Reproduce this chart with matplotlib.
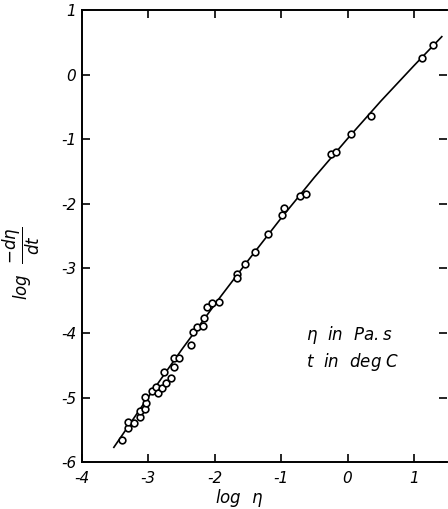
import matplotlib
matplotlib.use("Agg")
import matplotlib.pyplot as plt

# Measured points: log viscosity vs log of its rate of change
log_eta = [-3.39, -3.31, -3.30, -3.22, -3.13, -3.13, -3.05, -3.04, -3.05,
           -2.94, -2.88, -2.86, -2.80, -2.77, -2.73, -2.66, -2.62, -2.62,
           -2.54, -2.36, -2.33, -2.27, -2.17, -2.16, -2.11, -2.04, -1.94,
           -1.67, -1.67, -1.55, -1.40, -1.20, -0.98, -0.96, -0.72, -0.62,
           -0.25, -0.17, 0.05, 0.36, 1.12, 1.29]
log_rate = [-5.65, -5.47, -5.38, -5.39, -5.30, -5.21, -5.17, -5.08, -4.99,
            -4.90, -4.83, -4.93, -4.85, -4.61, -4.77, -4.69, -4.53, -4.39,
            -4.39, -4.19, -3.98, -3.91, -3.89, -3.77, -3.59, -3.54, -3.52,
            -3.09, -3.15, -2.93, -2.74, -2.46, -2.17, -2.07, -1.88, -1.85,
            -1.22, -1.20, -0.91, -0.64, 0.26, 0.46]

# Fitted curve through the data
fit_x = [-3.52, -3.0, -2.5, -1.915, -1.5, -1.0, -0.5, 0.0, 0.5, 1.0, 1.42]
fit_y = [-5.77, -4.99, -4.26, -3.44, -2.88, -2.22, -1.59, -0.99, -0.41, 0.14, 0.59]

x_ticks = [-4, -3, -2, -1, 0, 1]
y_ticks = [-6, -5, -4, -3, -2, -1, 0, 1]

plt.rcParams['font.family'] = ['DejaVu Sans']
plt.rcParams['mathtext.fontset'] = 'custom'
plt.rcParams['mathtext.it'] = 'DejaVu Sans:italic'
plt.rcParams['mathtext.rm'] = 'DejaVu Sans:italic'

fig = plt.figure(figsize=(4.48, 5.09), dpi=100)
ax = fig.add_axes([0.183, 0.092, 0.815, 0.888])

ax.plot(fit_x, fit_y, color='black', lw=1.2, zorder=2)
ax.plot(log_eta, log_rate, linestyle='none', marker='o', ms=4.8,
        mfc='white', mec='black', mew=1.2, zorder=3)

ax.set_xlim(-4, 1.5)
ax.set_ylim(-6, 1)
ax.set_xticks(x_ticks)
ax.set_yticks(y_ticks)
ax.set_xticklabels([str(v) for v in x_ticks], fontstyle='italic', fontsize=11)
ax.set_yticklabels([str(v) for v in y_ticks], fontstyle='italic', fontsize=11)
ax.tick_params(direction='in', length=6, width=1.2, top=True, right=True,
               pad=4)
ax.tick_params(axis='x', pad=6)

for side in ('left', 'bottom', 'top'):
    ax.spines[side].set_linewidth(1.4)
ax.spines['right'].set_visible(False)

ax.set_xlabel(r'$log\ \ \eta$', fontsize=12)
ax.xaxis.set_label_coords(0.43, -0.055)
ax.set_ylabel(r'$log\ \ \dfrac{-d\eta}{dt}$', fontsize=12)
ax.yaxis.set_label_coords(-0.11, 0.44)

ax.text(-0.63, -4.03, r'$\eta\ \ in\ \ Pa.s$', fontsize=12, va='center')
ax.text(-0.63, -4.45, r'$t\ \ in\ \ deg\ C$', fontsize=12, va='center')

fig.savefig('out.png', dpi=100)
